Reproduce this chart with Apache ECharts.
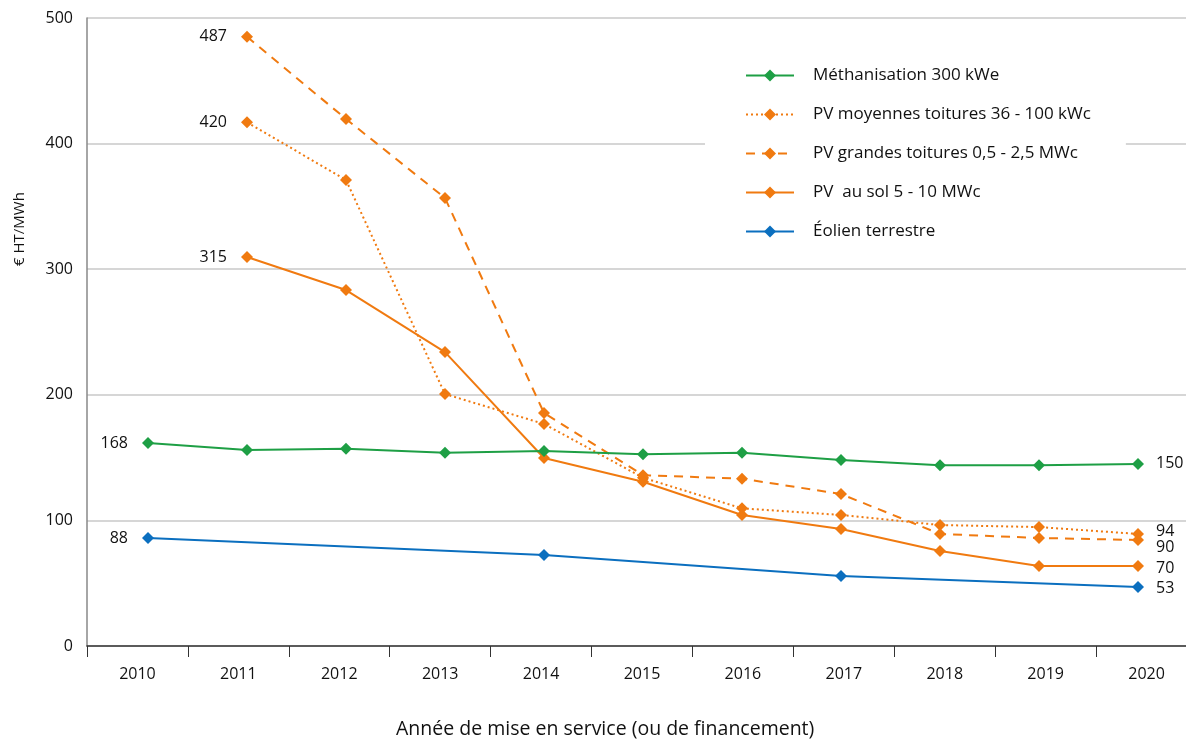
<!DOCTYPE html>
<html><head><meta charset="utf-8">
<script src="https://cdn.jsdelivr.net/npm/echarts@6/dist/echarts.min.js"></script>
<style>html,body{margin:0;padding:0;background:#fff}#c{width:1186px;height:740px}</style>
</head><body><div id="c"></div>
<script>
const years = ['2010','2011','2012','2013','2014','2015','2016','2017','2018','2019','2020'];
const yTicks = [0,100,200,300,400,500];
const names = ['Méthanisation 300 kWe','PV moyennes toitures 36 - 100 kWc','PV grandes toitures 0,5 - 2,5 MWc','PV  au sol 5 - 10 MWc','Éolien terrestre'];
const methanisation = [161.6,156,157,153.9,155.3,152.6,153.9,148,144,144,145];
const pvMoyennes   = [null,417,371,200.6,176.8,134,109.6,104.3,96.3,94.7,89.2];
const pvGrandes    = [null,485,419.6,356.7,185.5,136,133.2,121,89.2,86,84.4];
const pvSol        = [null,309.7,283.4,234,149.7,130.8,104.3,93.2,75.6,63.7,63.7];
const eolien       = [86,null,null,null,72.5,null,null,55.7,null,null,47];
const startLabels  = ['168','420','487','315','88'];
const endLabels    = ['150','94','90','70','53'];
const xTitle = 'Année de mise en service (ou de financement)';
const yTitle = '€ HT/MWh';

const GREEN='#1e9f45', ORANGE='#f07a10', BLUE='#0b6fbf';
const FONT='Open Sans';
const colors=[GREEN,ORANGE,ORANGE,ORANGE,BLUE];
const lineTypes=['solid',[2,3],[9,7],'solid','solid'];
const allData=[methanisation,pvMoyennes,pvGrandes,pvSol,eolien];
const endOffsets=[[0,0],[0,-3],[0,7],[0,2],[0,1]];

function build(arr, i){
  let first=arr.findIndex(v=>v!=null), last=arr.length-1;
  return arr.map((v,k)=>{
    if(v==null) return null;
    const d={value:v};
    if(k===first) d.label={show:true,position:'left',distance:14,formatter:startLabels[i],color:'#111',fontSize:16,fontFamily:FONT};
    else if(k===last) d.label={show:true,position:'right',distance:12,offset:endOffsets[i],formatter:endLabels[i],color:'#111',fontSize:16,fontFamily:FONT};
    return d;
  });
}

const series=allData.map((arr,i)=>({
  name:names[i], type:'line', xAxisIndex:1, yAxisIndex:1,
  data:build(arr,i), connectNulls:true,
  symbol:'diamond', symbolSize:12,
  lineStyle:{color:colors[i],width:2,type:lineTypes[i]},
  itemStyle:{color:colors[i]},
  z: i===0?3:2
}));

const chart=echarts.init(document.getElementById('c'),null,{renderer:'canvas'});
chart.setOption({
  animation:false,
  backgroundColor:'#fff',
  textStyle:{fontFamily:FONT},
  grid:[
    {left:87,top:18,width:1110,bottom:94,outerBoundsMode:'none',containLabel:false},
    {left:98.5,top:18,width:1089,bottom:94,outerBoundsMode:'none',containLabel:false}
  ],
  xAxis:[
    {type:'category',gridIndex:0,data:years,boundaryGap:true,
     axisLine:{lineStyle:{color:'#333',width:1.5}},
     axisTick:{show:true,length:11,lineStyle:{color:'#333'}},
     axisLabel:{color:'#111',fontSize:16,margin:20,fontFamily:FONT}},
    {type:'category',gridIndex:1,data:years,boundaryGap:true,show:false}
  ],
  yAxis:[
    {type:'value',gridIndex:0,min:0,max:500,interval:100,
     axisLine:{show:true,lineStyle:{color:'#888',width:1.5}},
     axisTick:{show:false},
     splitLine:{lineStyle:{color:'#c8c8c8',width:1.5}},
     axisLabel:{color:'#111',fontSize:16,margin:14,fontFamily:FONT,
       formatter:v=>yTicks.includes(v)?String(v):''}},
    {type:'value',gridIndex:1,min:0,max:500,interval:100,show:false,splitLine:{show:false}}
  ],
  legend:{
    orient:'vertical', left:705, top:57,
    backgroundColor:'#fff', padding:[10,35,12,40],
    itemWidth:48, itemHeight:15, itemGap:22,
    textStyle:{fontSize:17,color:'#111',fontFamily:FONT,padding:[0,0,0,14]},
    data:names
  },
  graphic:[
    {type:'text',left:396,top:719,style:{text:xTitle,fontSize:19.5,fill:'#111',fontFamily:FONT}},
    {type:'text',x:12,y:266,rotation:Math.PI/2,style:{text:yTitle,fontSize:15,fill:'#111',fontFamily:FONT}}
  ],
  series:series
});
</script></body></html>
